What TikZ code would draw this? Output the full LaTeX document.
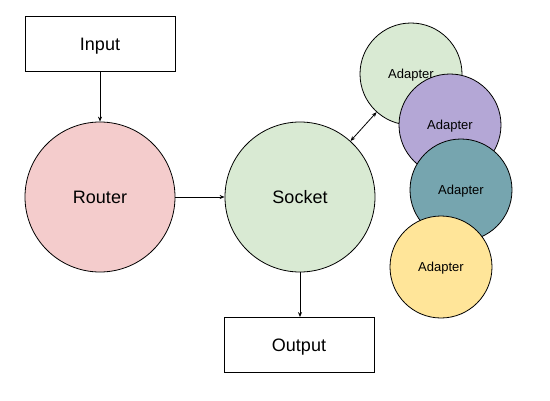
\documentclass[tikz,border=0pt]{standalone}
\usepackage{fontspec}
\setmainfont{Liberation Sans}
\usetikzlibrary{arrows.meta}
\definecolor{cpink}{HTML}{F4CCCC}
\definecolor{cgreen}{HTML}{D9EAD3}
\definecolor{cpurple}{HTML}{B4A7D6}
\definecolor{cteal}{HTML}{76A5AF}
\definecolor{cyellow}{HTML}{FFE599}
\tikzset{
  boxnode/.style={draw=black, line width=0.8pt, fill=white, minimum width=150pt, minimum height=55pt, inner sep=0pt, text depth=0pt, font=\fontsize{18}{21}\selectfont},
  bigcirc/.style={circle, draw=black, line width=0.8pt, minimum size=150pt, inner sep=0pt, font=\fontsize{18}{21}\selectfont},
  adcirc/.style={circle, draw=black, line width=0.8pt, minimum size=102pt, inner sep=0pt, text depth=0pt, font=\fontsize{13}{15}\selectfont},
  conn/.style={line width=0.8pt, -{Stealth[length=5pt,width=4pt]}},
}
\begin{document}
\begin{tikzpicture}[x=1pt,y=-1pt]
\useasboundingbox (0,0) rectangle (550,400);
\node[boxnode] (input) at (100,44) {Input};
\node[bigcirc, fill=cpink] (router) at (100,197) {Router};
\node[bigcirc, fill=cgreen] (socket) at (300,197) {Socket};
\node[boxnode] (output) at (299,345) {Output};
\node[adcirc, fill=cgreen] (ad1) at (411,74) {Adapter};
\node[adcirc, fill=cpurple] (ad2) at (450,125) {Adapter};
\node[adcirc, fill=cteal] (ad3) at (461,190) {Adapter};
\node[adcirc, fill=cyellow] (ad4) at (441,267) {Adapter};
\draw[conn] (input) -- (router);
\draw[conn] (router) -- (socket);
\draw[conn] (socket.south) ++(0,0) coordinate (sb) -- (sb |- output.north);
\draw[line width=0.8pt, {Stealth[length=5pt,width=4pt]}-{Stealth[length=5pt,width=4pt]}] (socket) -- (ad1);
\end{tikzpicture}
\end{document}
